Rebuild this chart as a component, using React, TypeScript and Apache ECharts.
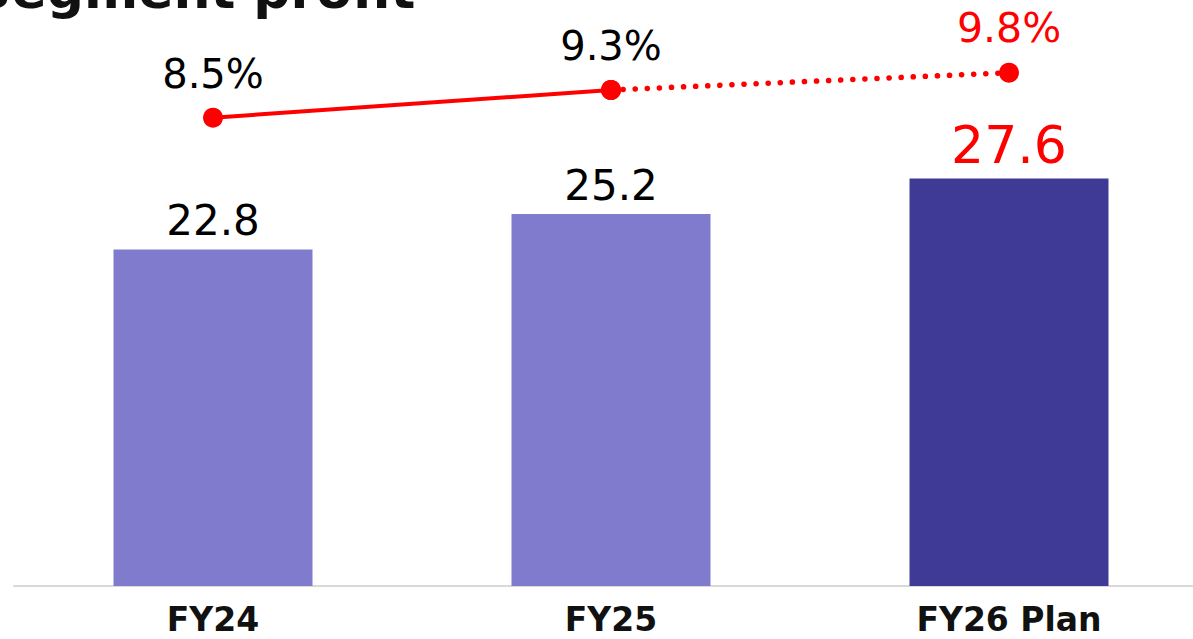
import React, { useEffect, useRef } from "react";
import * as echarts from "echarts";

const categories = ["FY24", "FY25", "FY26 Plan"];
const profitValues = [22.8, 25.2, 27.6];
const marginActual = [8.5, 9.3, null];
const marginPlan = [null, 9.3, 9.8];
const titleText = "Segment profit";

const FONT = "DejaVu Sans";
const LIGHT = "#807BCC";
const DARK = "#3F3A96";
const RED = "#FF0000";

export default function App() {
  const ref = useRef<HTMLDivElement>(null);
  useEffect(() => {
    document.body.style.margin = "0";
    const chart = echarts.init(ref.current!, null, { renderer: "svg" });
    const barData = profitValues.map((v, i) => {
      const plan = i === categories.length - 1;
      return {
        value: v,
        itemStyle: { color: plan ? DARK : LIGHT },
        label: plan
          ? { color: RED, fontSize: 52 }
          : { color: "#000", fontSize: 42 },
      };
    });
    const actualData = marginActual.map((v) => ({
      value: v,
      label: { show: v !== null, color: "#000" },
    }));
    const planData = marginPlan.map((v, i) => ({
      value: v,
      label: { show: i === 2, color: RED },
    }));
    chart.setOption({
      animation: false,
      grid: { left: 14, right: 0, top: 0, bottom: 53 },
      xAxis: {
        type: "category",
        data: categories,
        axisTick: { show: false },
        axisLine: { lineStyle: { color: "#D9D9D9", width: 2 } },
        axisLabel: {
          color: "#111",
          fontFamily: FONT,
          fontSize: 33,
          fontWeight: "bold",
          margin: 17,
        },
      },
      yAxis: [
        { type: "value", min: 0, max: 39.7, show: false, splitLine: { show: false } },
        { type: "value", min: -5.03, max: 11.9, show: false, splitLine: { show: false } },
      ],
      series: [
        {
          type: "bar",
          data: barData,
          barWidth: "50%",
          label: {
            show: true,
            position: "top",
            distance: 8,
            fontFamily: FONT,
            formatter: (p: any) => p.value.toFixed(1),
          },
        },
        {
          type: "line",
          yAxisIndex: 1,
          data: actualData,
          symbol: "circle",
          symbolSize: 20,
          itemStyle: { color: RED },
          lineStyle: { color: RED, width: 4 },
          z: 5,
          label: {
            position: "top",
            distance: 14,
            fontFamily: FONT,
            fontSize: 40,
            formatter: (p: any) => p.value.toFixed(1) + "%",
          },
        },
        {
          type: "line",
          yAxisIndex: 1,
          data: planData,
          symbol: "circle",
          symbolSize: 20,
          itemStyle: { color: RED },
          lineStyle: { color: RED, width: 5.5, type: [0.1, 12], cap: "round" },
          z: 4,
          label: {
            position: "top",
            distance: 14,
            fontFamily: FONT,
            fontSize: 41,
            formatter: (p: any) => p.value.toFixed(1) + "%",
          },
        },
      ],
      graphic: [
        {
          type: "text",
          left: -26,
          top: -36,
          style: {
            text: titleText,
            fontFamily: FONT,
            fontSize: 52,
            fontWeight: "bold",
            fill: "#111",
          },
        },
      ],
    });
    return () => chart.dispose();
  }, []);
  return (
    <div style={{ width: 1193, height: 639, overflow: "hidden" }}>
      <div ref={ref} style={{ width: 1208, height: 639 }} />
    </div>
  );
}
